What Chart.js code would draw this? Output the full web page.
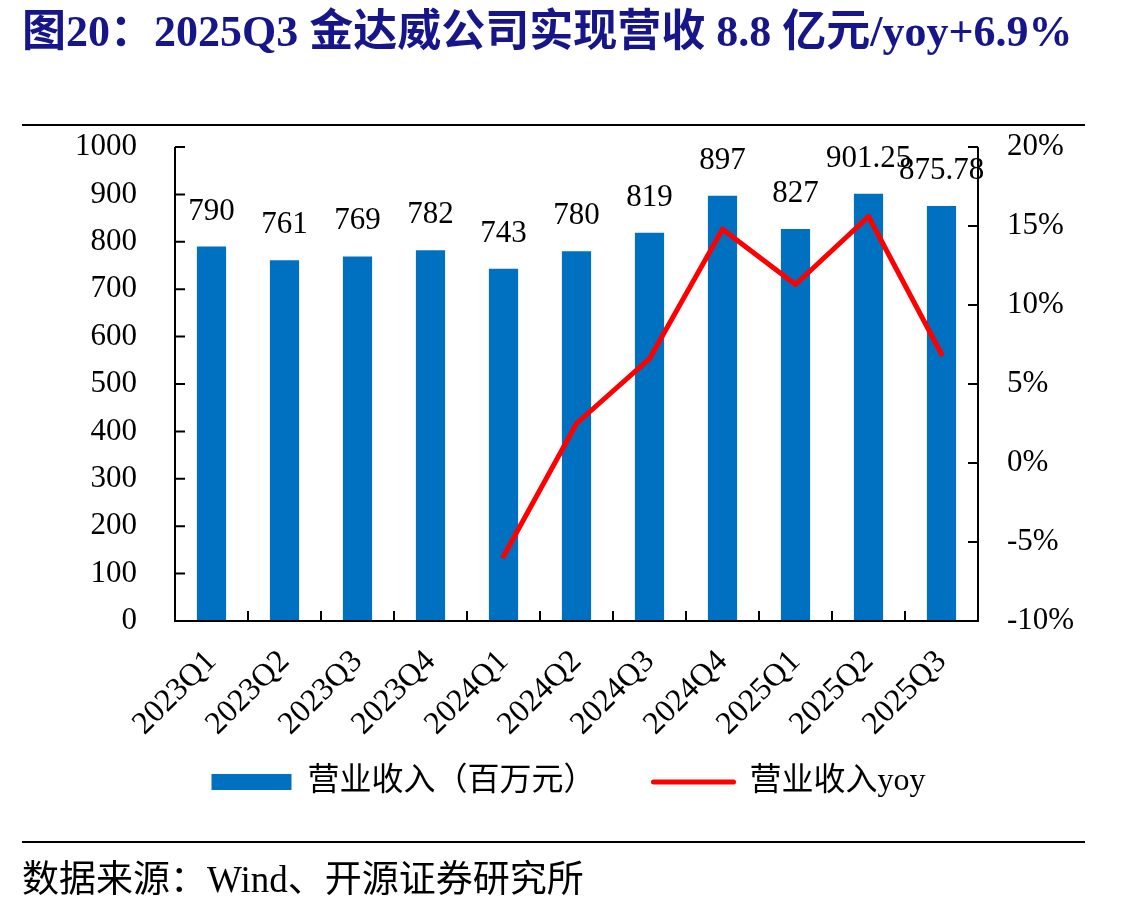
<!DOCTYPE html>
<html>
<head>
<meta charset="utf-8">
<script src="https://cdn.jsdelivr.net/npm/chart.js@4.4.1/dist/chart.umd.min.js"></script>
<style>
  body { margin: 0; background: #fff; width: 1137px; height: 908px; position: relative; overflow: hidden; }
  #title { position: absolute; left: 22px; top: -5px; font: bold 44px "Liberation Serif", "Noto Sans CJK SC"; color: #16168a; white-space: nowrap; }
  .rule { position: absolute; left: 22px; width: 1063px; height: 2px; background: #000; }
  #source { position: absolute; left: 22px; top: 849px; font: 37px "Liberation Serif", "Noto Sans CJK SC"; color: #000; white-space: nowrap; }
  #wrap { position: absolute; left: 0; top: 0; width: 1137px; height: 908px; }
</style>
</head>
<body>
<div id="wrap"><canvas id="chart"></canvas></div>
<div id="title">图20：2025Q3 金达威公司实现营收 8.8 亿元/yoy+6.9%</div>
<div class="rule" style="top:124px"></div>
<div class="rule" style="top:841px"></div>
<div id="source">数据来源：Wind、开源证券研究所</div>
<script>
const quarters = ['2023Q1', '2023Q2', '2023Q3', '2023Q4', '2024Q1', '2024Q2', '2024Q3', '2024Q4', '2025Q1', '2025Q2', '2025Q3'];
const revenue = [790, 761, 769, 782, 743, 780, 819, 897, 827, 901.25, 875.78];
const revenueYoy = [null, null, null, null, -5.9, 2.5, 6.6, 14.8, 11.3, 15.6, 6.9];

const serif = '"Liberation Serif", "Noto Sans CJK SC"';

// axis lines with inward ticks, like the original
const axisFrame = {
  id: 'axisFrame',
  afterDatasetsDraw(chart) {
    const ctx = chart.ctx;
    const a = chart.chartArea;
    const x = chart.scales.x, y = chart.scales.y, y1 = chart.scales.y1;
    ctx.save();
    ctx.strokeStyle = '#000';
    ctx.lineWidth = 2;
    ctx.beginPath();
    ctx.moveTo(a.left, a.top); ctx.lineTo(a.left, a.bottom); ctx.lineTo(a.right, a.bottom); ctx.lineTo(a.right, a.top);
    y.ticks.forEach((t, i) => {
      const py = y.getPixelForTick(i);
      ctx.moveTo(a.left, py); ctx.lineTo(a.left + 10, py);
    });
    y1.ticks.forEach((t, i) => {
      const py = y1.getPixelForTick(i);
      ctx.moveTo(a.right, py); ctx.lineTo(a.right - 10, py);
    });
    for (let i = 1; i < quarters.length; i++) {
      const px = (x.getPixelForValue(i - 1) + x.getPixelForValue(i)) / 2;
      ctx.moveTo(px, a.bottom); ctx.lineTo(px, a.bottom - 10);
    }
    ctx.stroke();
    ctx.restore();
  }
};

const barLabels = {
  id: 'barLabels',
  afterDatasetsDraw(chart) {
    const ctx = chart.ctx;
    const meta = chart.getDatasetMeta(1);
    ctx.save();
    ctx.font = '31px ' + serif;
    ctx.fillStyle = '#000';
    ctx.textAlign = 'center';
    ctx.textBaseline = 'alphabetic';
    meta.data.forEach((bar, i) => {
      ctx.fillText(String(revenue[i]), bar.x, bar.y - 27);
    });
    ctx.restore();
  }
};

new Chart('chart', {
  data: {
    labels: quarters,
    datasets: [
      {
        type: 'line',
        label: '营业收入yoy',
        data: revenueYoy,
        yAxisID: 'y1',
        borderColor: '#ff0000',
        backgroundColor: '#ff0000',
        borderWidth: 5,
        borderCapStyle: 'round',
        borderJoinStyle: 'round',
        pointRadius: 0,
        pointStyle: 'line',
        order: 0
      },
      {
        type: 'bar',
        label: '营业收入（百万元）',
        data: revenue,
        yAxisID: 'y',
        backgroundColor: '#0070c0',
        borderWidth: 0,
        barPercentage: 0.8,
        categoryPercentage: 0.5,
        pointStyle: 'rect',
        order: 1
      }
    ]
  },
  options: {
    responsive: true,
    maintainAspectRatio: false,
    animation: false,
    layout: { padding: { top: 147, left: 0, right: 0, bottom: 100 } },
    plugins: {
      tooltip: { enabled: false },
      legend: {
        position: 'bottom',
        reverse: true,
        labels: {
          usePointStyle: true,
          pointStyleWidth: 80,
          boxHeight: 16,
          color: '#000',
          padding: 10,
          font: { family: serif, size: 32 },
          generateLabels(chart) {
            const items = Chart.defaults.plugins.legend.labels.generateLabels(chart);
            items.forEach(it => {
              if (it.pointStyle === 'line') { it.lineWidth = 5; it.lineCap = 'round'; }
              else { it.lineWidth = 0; it.text += '\u3000\u3000'; }
            });
            return items;
          }
        }
      }
    },
    scales: {
      x: {
        grid: { display: false, drawTicks: false },
        border: { display: false },
        ticks: {
          color: '#000',
          font: { family: serif, size: 32 },
          minRotation: 45,
          maxRotation: 45,
          padding: 22
        },
        afterFit(scale) { scale.height = 135; }
      },
      y: {
        position: 'left',
        min: 0,
        max: 1000,
        grid: { display: false, drawTicks: false },
        border: { display: false },
        ticks: {
          stepSize: 100,
          color: '#000',
          padding: 38,
          font: { family: serif, size: 31 },
          callback: v => String(v)
        },
        afterFit(scale) { scale.width = 175; }
      },
      y1: {
        position: 'right',
        min: -10,
        max: 20,
        grid: { display: false, drawTicks: false },
        border: { display: false },
        ticks: {
          stepSize: 5,
          color: '#000',
          padding: 29,
          font: { family: serif, size: 31 },
          callback: v => v + '%'
        },
        afterFit(scale) { scale.width = 159; }
      }
    }
  },
  plugins: [axisFrame, barLabels]
});
</script>
</body>
</html>
